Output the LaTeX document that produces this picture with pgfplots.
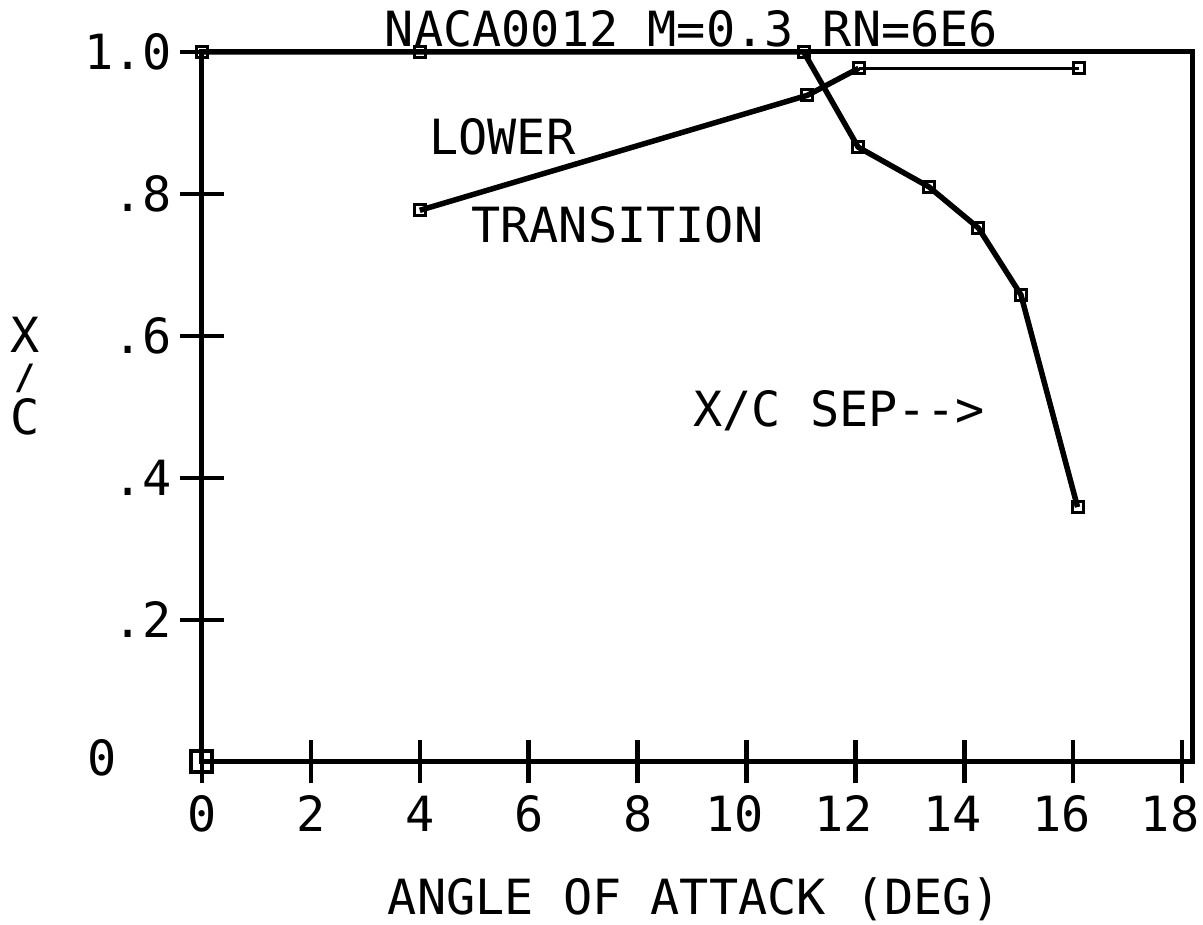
\documentclass[border=0pt]{standalone}
\usepackage{pgfplots}
\pgfplotsset{compat=1.18}
\usepackage{fontspec}
\setmainfont{DejaVu Sans Mono}
\begin{document}
\fontsize{13.8pt}{15pt}\selectfont
\begin{tikzpicture}
\useasboundingbox (0,0) rectangle (12.03cm,9.25cm);
\begin{axis}[
  at={(2.02cm,1.63cm)}, anchor=south west,
  scale only axis, width=9.91cm, height=7.10cm,
  xmin=0, xmax=18.2, ymin=0, ymax=1,
  xtick={0,2,4,6,8,10,12,14,16,18},
  xticklabels={0,2,4,6,8,\hspace*{-0.24cm}10,\hspace*{-0.24cm}12,\hspace*{-0.24cm}14,\hspace*{-0.24cm}16,\hspace*{-0.24cm}18},
  ytick={0.2,0.4,0.6,0.8,1.0},
  yticklabels={.2,.4,.6,.8,1.0},
  tick pos=left,
  tick align=center, major tick length=0.43cm,
  axis line style={line width=0.5mm},
  major tick style={line width=0.45mm, black},
  tick label style={/pgf/number format/assume math mode=true},
  xticklabel style={anchor=north, inner sep=0pt, yshift=-0.115cm},
  yticklabel style={anchor=east, inner sep=0pt, xshift=-0.08cm},
  clip=false,
]
% upper transition / separation
\addplot[black, line width=0.55mm, mark=square, mark size=0.55mm, mark options={solid, line width=0.3mm}] coordinates {
  (0,1.0) (4,1.0) (11.05,1.0) (12.05,0.866) (13.35,0.810) (14.26,0.752) (15.04,0.658) (16.08,0.359)
};
% lower transition (thick part)
\addplot[black, line width=0.55mm, mark=square, mark size=0.55mm, mark options={solid, line width=0.3mm}] coordinates {
  (4,0.777) (11.12,0.939) (12.06,0.977)
};
% lower transition (thin part)
\addplot[black, line width=0.3mm, mark=square, mark size=0.55mm, mark options={solid, line width=0.3mm}] coordinates {
  (12.06,0.977) (16.1,0.977)
};
% origin marker
\addplot[only marks, black, mark=square, mark size=1.05mm, mark options={line width=0.4mm}] coordinates {(0,0)};
\node at (rel axis cs:0.494,1.032) {NACA0012 M=0.3 RN=6E6};
\node at (rel axis cs:0.303,0.880) {LOWER};
\node at (rel axis cs:0.419,0.756) {TRANSITION};
\node at (rel axis cs:0.643,0.494) {X/C SEP-{}->};
\node at (rel axis cs:0.497,-0.194) {ANGLE OF ATTACK (DEG)};
\node at (rel axis cs:-0.101,0.006) {0};
\node[inner sep=0pt] at (rel axis cs:-0.1786,0.602) {X};
\node[inner sep=0pt, scale=0.72, font=\bfseries] at (rel axis cs:-0.1786,0.540) {/};
\node[inner sep=0pt] at (rel axis cs:-0.1786,0.486) {C};
\end{axis}
\end{tikzpicture}
\end{document}
